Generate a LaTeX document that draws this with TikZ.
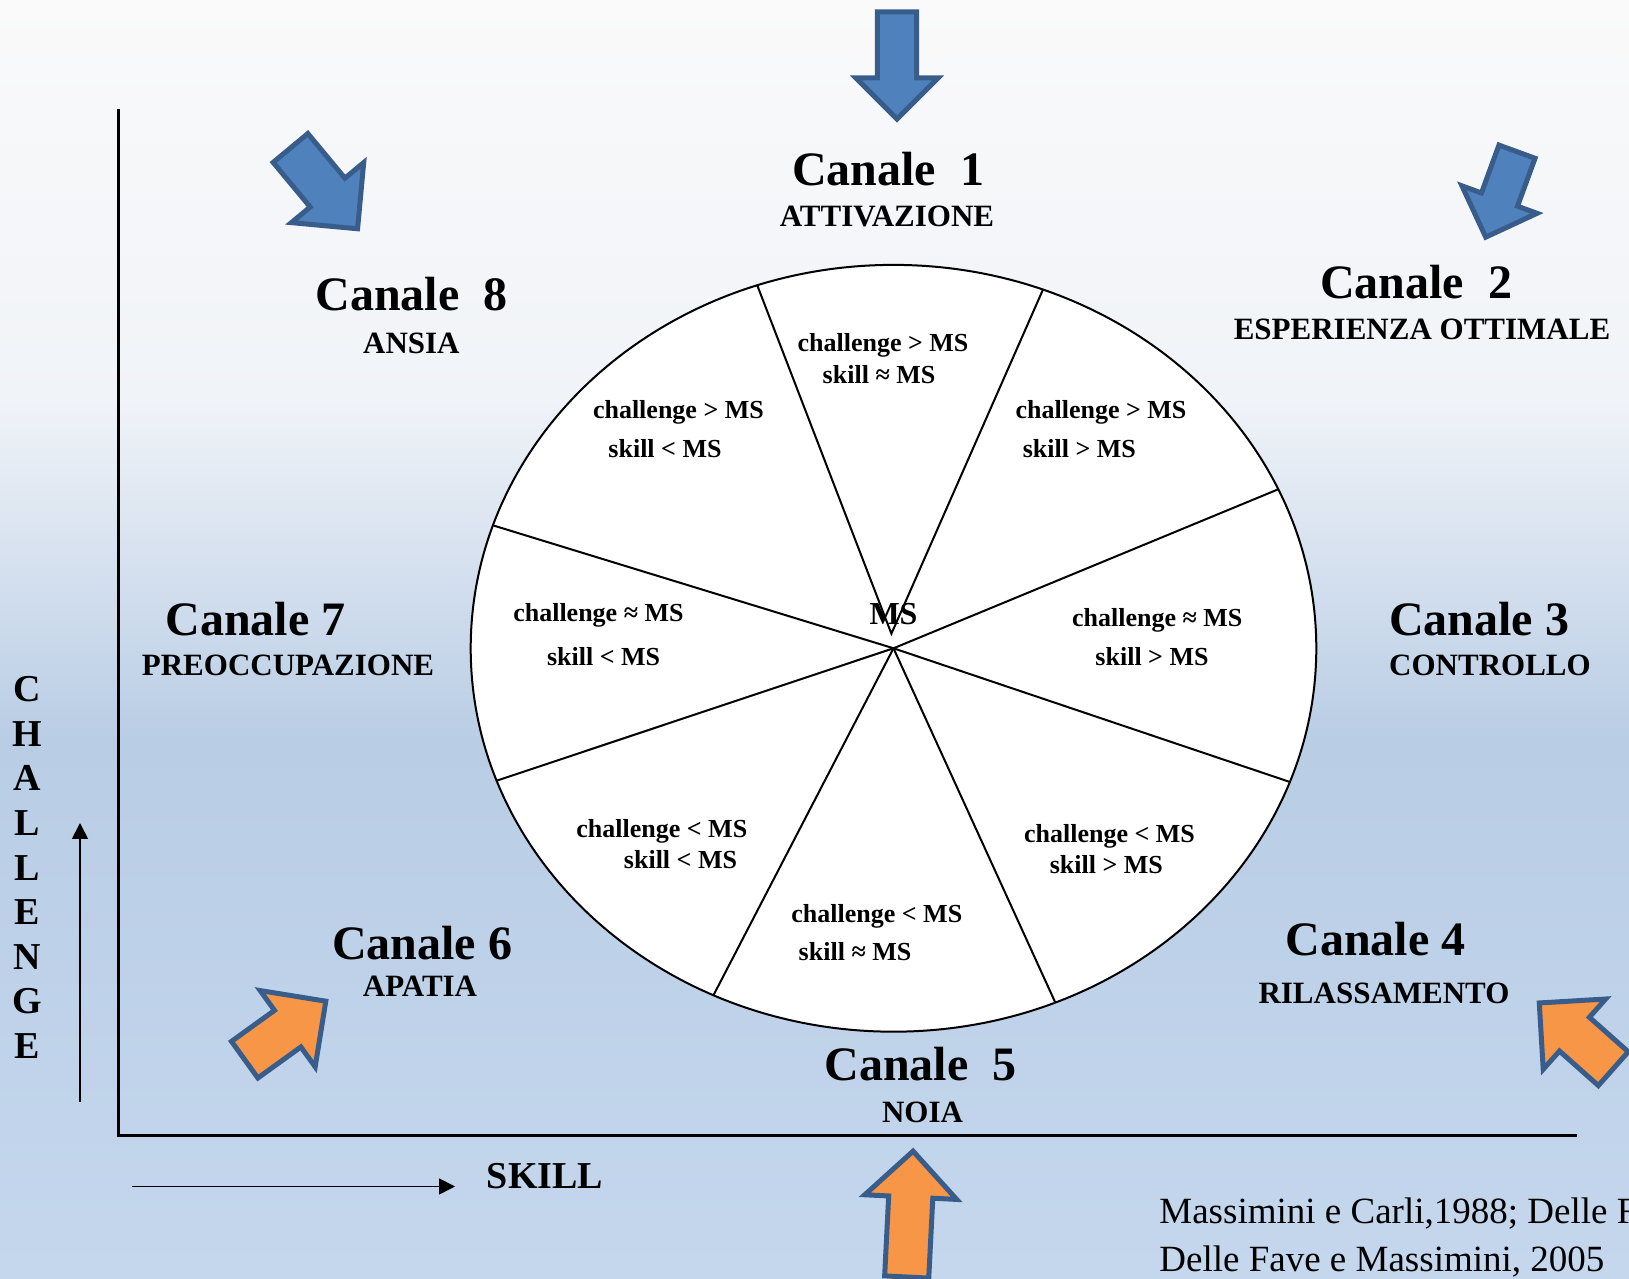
\documentclass[tikz,border=0pt]{standalone}
\usepackage{fontspec}
\setmainfont{Liberation Serif}
\usetikzlibrary{arrows.meta, calc}

\definecolor{bgtop}{RGB}{250,250,250}
\definecolor{bgpale}{RGB}{240,243,248}
\definecolor{bgmid}{RGB}{185,205,229}
\definecolor{bgbot}{RGB}{196,215,237}
\definecolor{arrowblue}{RGB}{79,129,189}
\definecolor{arroworange}{RGB}{247,150,70}
\definecolor{arrowedge}{RGB}{56,93,138}

% block arrow: style, tail, angle, length, head length
\newcommand{\blockarrow}[5]{%
  \draw[#1, shift={#2}, rotate=#3]
    (0,{-0.48*#5}) -- ({#4-#5},{-0.48*#5}) -- ({#4-#5},{-#5}) -- (#4,0)
    -- ({#4-#5},{#5}) -- ({#4-#5},{0.48*#5}) -- (0,{0.48*#5}) -- cycle;}

\begin{document}
\begin{tikzpicture}[
  x=0.5pt, y=0.5pt,
  chan/.style={font=\fontsize{24}{28}\selectfont\bfseries, anchor=base, inner sep=0pt},
  mood/.style={font=\fontsize{15.5}{18}\selectfont\bfseries, anchor=base, inner sep=0pt},
  cond/.style={font=\fontsize{13}{15}\selectfont\bfseries, anchor=base, inner sep=0pt},
  axislabel/.style={font=\fontsize{19}{22}\selectfont\bfseries, anchor=base, inner sep=0pt},
  cite/.style={font=\fontsize{18.5}{22}\selectfont, anchor=base west, inner sep=0pt},
  blue arrow/.style={fill=arrowblue, draw=arrowedge, line width=2.5pt, line join=miter},
  orange arrow/.style={fill=arroworange, draw=arrowedge, line width=2.5pt, line join=miter},
  axis/.style={line width=1.4pt},
  small arrow/.style={line width=0.9pt, -{Triangle[length=8pt, width=8pt]}},
]
  \clip (0,0) rectangle (1629,1279);
  \shade[top color=bgtop, bottom color=bgpale] (0,879) rectangle (1629,1279);
  \shade[top color=bgpale, bottom color=bgmid] (0,539) rectangle (1629,879.5);
  \shade[top color=bgmid, bottom color=bgbot] (0,0) rectangle (1629,539.5);

  \coordinate (ms) at (893.5,630.7);
  \coordinate (apex) at (891.4,645.3);

  \draw[axis] (118.4,1170) coordinate (ytop) -- (118.4,143.4) coordinate (orig)
    -- (1577,143.4) coordinate (xend);

  \coordinate (up0) at (80,177.3);
  \coordinate (up1) at (80,456);
  \draw[small arrow] (up0) -- (up1);
  \coordinate (rt0) at (132,92.5);
  \coordinate (rt1) at (455,92.5);
  \draw[small arrow] (rt0) -- (rt1);

  \draw[line width=1pt, fill=white] (ms) ellipse [x radius=422.8, y radius=383.4];
  \draw[line width=1pt] (ms) ++(108.8:422.8 and 383.4) -- (apex)
    -- ($(ms)+(69.3:422.8 and 383.4)$);
  \foreach \a in {24.5,-20.4,-67.5,244.8,200.2,161.3}
    \draw[line width=1pt] (ms) -- ++(\a:422.8 and 383.4);

  \node[font=\fontsize{16}{18}\selectfont\bfseries, inner sep=0pt] (mslabel) at (893.5,665) {MS};

  \foreach \x/\y/\t [count=\i] in {
      883/936/{challenge > MS}, 879/904/{skill ≈ MS},
      678.4/869.7/{challenge > MS}, 665/830.2/{skill < MS},
      1101/869.7/{challenge > MS}, 1079.4/830.2/{skill > MS},
      1157.3/661/{challenge ≈ MS}, 1152/622.4/{skill > MS},
      598.4/666/{challenge ≈ MS}, 603.6/622.4/{skill < MS},
      661.8/450/{challenge < MS}, 680.5/419/{skill < MS},
      876.8/365.8/{challenge < MS}, 855/327.4/{skill ≈ MS},
      1109.5/445.8/{challenge < MS}, 1106.4/414.6/{skill > MS}}
    \node[cond] (w\i) at (\x,\y-9) {\t};

  \node[chan] (c1) at (888,1093.5) {Canale~~1};
  \node[mood] (m1) at (887,1052) {ATTIVAZIONE};
  \node[chan] (c2) at (1416,980.4) {Canale~~2};
  \node[mood] (m2) at (1422,939) {ESPERIENZA OTTIMALE};
  \node[chan] (c3) at (1479,643) {Canale 3};
  \node[mood] (m3) at (1490,603) {CONTROLLO};
  \node[chan] (c4) at (1375.5,323) {Canale 4};
  \node[mood] (m4) at (1384,275) {RILASSAMENTO};
  \node[chan] (c5) at (920.5,198) {Canale~~5};
  \node[mood] (m5) at (922.5,156.4) {NOIA};
  \node[chan] (c6) at (422,319) {Canale 6};
  \node[mood] (m6) at (420,282) {APATIA};
  \node[chan] (c7) at (255.6,643) {Canale 7};
  \node[mood] (m7) at (288,603) {PREOCCUPAZIONE};
  \node[chan] (c8) at (411.4,968) {Canale~~8};
  \node[mood] (m8) at (411.4,925) {ANSIA};

  \foreach \l [count=\i] in {C,H,A,L,L,E,N,G,E}
    \node[axislabel] (ch\i) at (27,{577.3-(\i-1)*44.6}) {\l};
  \node[axislabel] (skill) at (545,90) {SKILL};

  \node[cite] (cite1) at (1159,55.7) {Massimini e Carli,1988; Delle F};
  \node[cite] (cite2) at (1159,7.3) {Delle Fave e Massimini, 2005};

  \blockarrow{blue arrow}{(897,1267)}{-90}{107}{41}
  \blockarrow{blue arrow}{(290.5,1131)}{-50.3}{105}{47}
  \blockarrow{blue arrow}{(1517,1127.3)}{-110.1}{91}{40}
  \blockarrow{orange arrow}{(244.7,219.3)}{35.8}{100}{47}
  \blockarrow{orange arrow}{(1613.3,210.3)}{138.4}{99}{47}
  \blockarrow{orange arrow}{(906.7,2)}{87.1}{126}{46}
\end{tikzpicture}
\end{document}
